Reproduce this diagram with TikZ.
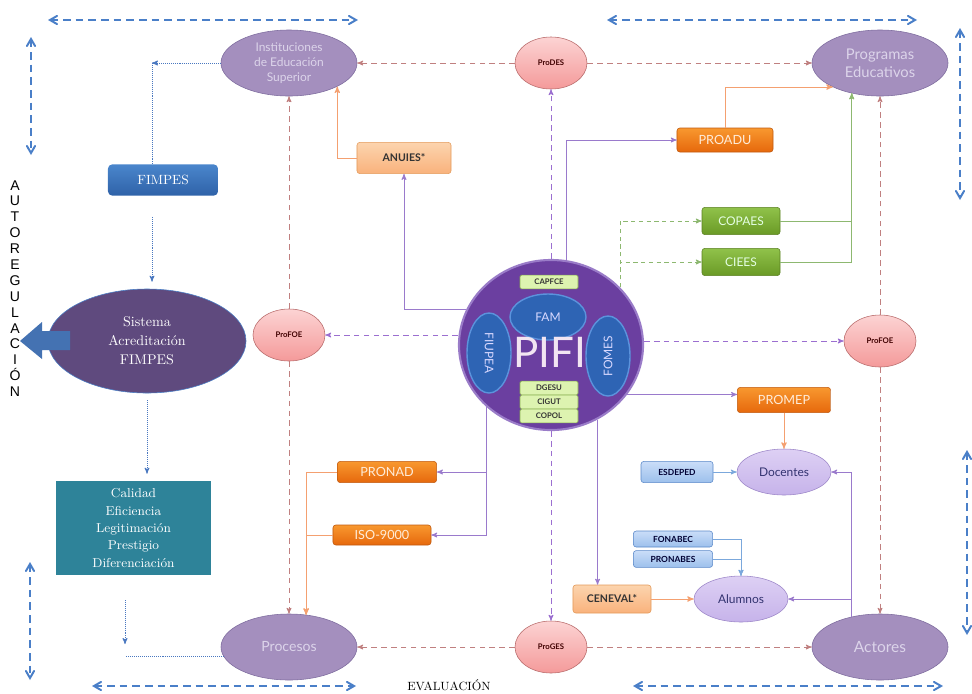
\documentclass[tikz,border=0pt]{standalone}
\usepackage{fontspec}
\newfontfamily\gill{Lato}
\newfontfamily\arial{Liberation Sans}
\usetikzlibrary{arrows,shapes.geometric}

\definecolor{bigfill}{HTML}{A48FBE}
\definecolor{bigline}{HTML}{7E6C9E}
\definecolor{bigtext}{HTML}{DCD4EA}
\definecolor{pinktop}{HTML}{FCD3D3}
\definecolor{pinkbot}{HTML}{F49A9A}
\definecolor{pinkline}{HTML}{B86B6B}
\definecolor{peachtop}{HTML}{FCD4AE}
\definecolor{peachbot}{HTML}{F9B27C}
\definecolor{peachline}{HTML}{E39A5A}
\definecolor{orangetop}{HTML}{F8982F}
\definecolor{orangebot}{HTML}{E6680C}
\definecolor{orangeline}{HTML}{C05A10}
\definecolor{greentop}{HTML}{90C24A}
\definecolor{greenbot}{HTML}{6A9A26}
\definecolor{greenline}{HTML}{5A8020}
\definecolor{bluetop}{HTML}{CADDF8}
\definecolor{bluebot}{HTML}{9CC0EC}
\definecolor{blueline}{HTML}{5A88C8}
\definecolor{lilactop}{HTML}{DDD0F4}
\definecolor{lilacbot}{HTML}{C6B3EA}
\definecolor{lilacline}{HTML}{9C86C8}
\definecolor{pififill}{HTML}{6B3FA0}
\definecolor{pifiline}{HTML}{9A7CC8}
\definecolor{pifiblue}{HTML}{2E64B4}
\definecolor{pifibluel}{HTML}{5B93DC}
\definecolor{tagfill}{HTML}{DDF3B0}
\definecolor{tagline}{HTML}{8AB050}
\definecolor{sisfill}{HTML}{5F4A7E}
\definecolor{sisline}{HTML}{4B7FC6}
\definecolor{teal}{HTML}{2E8399}
\definecolor{fimtop}{HTML}{4A86CC}
\definecolor{fimbot}{HTML}{2F62A8}
\definecolor{reddash}{HTML}{C08080}
\definecolor{purpdash}{HTML}{9B6FD0}
\definecolor{purpline}{HTML}{9A7ACC}
\definecolor{greenl}{HTML}{8DB870}
\definecolor{orangel}{HTML}{F4A070}
\definecolor{lightbl}{HTML}{7BA8DC}
\definecolor{dotblue}{HTML}{4A78C0}
\definecolor{bidirblue}{HTML}{4A7FC8}

\tikzset{
  big/.style={ellipse,draw=bigline,fill=bigfill,text=bigtext,inner sep=0pt,
    minimum width=3.4cm,minimum height=1.65cm,align=center},
  pinkel/.style={ellipse,draw=pinkline,top color=pinktop,bottom color=pinkbot,
    inner sep=0pt,minimum width=1.8cm,minimum height=1.3cm,text=black!75!red,
    font=\gill\bfseries\fontsize{5.5}{6}\selectfont},
  peach/.style={rectangle,rounded corners=2pt,draw=peachline,top color=peachtop,
    bottom color=peachbot,inner sep=0pt,text=black!80,
    font=\gill\bfseries\fontsize{7.5}{9}\selectfont},
  orangebox/.style={rectangle,rounded corners=2pt,draw=orangeline,top color=orangetop,
    bottom color=orangebot,inner sep=0pt,text=orange!15,
    font=\gill\fontsize{9}{10}\selectfont},
  greenbox/.style={rectangle,rounded corners=2pt,draw=greenline,top color=greentop,
    bottom color=greenbot,inner sep=0pt,text=green!10,minimum width=1.95cm,
    minimum height=0.68cm,font=\gill\fontsize{8.5}{10}\selectfont},
  bluebox/.style={rectangle,rounded corners=2pt,draw=blueline,top color=bluetop,
    bottom color=bluebot,inner sep=0pt,text=blue!20!black,
    font=\gill\bfseries\fontsize{6}{7}\selectfont},
  lilac/.style={ellipse,draw=lilacline,top color=lilactop,bottom color=lilacbot,
    inner sep=0pt,minimum width=2.35cm,minimum height=1.15cm,text=blue!30!black!80,
    font=\gill\fontsize{8.5}{10}\selectfont},
  pifitag/.style={rectangle,rounded corners=1pt,draw=tagline,fill=tagfill,inner sep=0pt,
    minimum width=1.45cm,minimum height=0.34cm,text=black!80,
    font=\gill\bfseries\fontsize{5.5}{6}\selectfont},
  pifiel/.style={ellipse,draw=pifibluel,line width=1pt,fill=pifiblue,inner sep=0pt,
    text=blue!15,font=\gill\fontsize{8.5}{10}\selectfont},
  reddsh/.style={draw=reddash,dash pattern=on 4pt off 3pt,line width=0.6pt,->},
  purpdsh/.style={draw=purpdash,dash pattern=on 4pt off 3pt,line width=0.6pt,->},
  purpln/.style={draw=purpline,line width=0.6pt,->},
  greendsh/.style={draw=greenl,dash pattern=on 3pt off 2.5pt,line width=0.6pt,->},
  greenln/.style={draw=greenl,line width=0.6pt,->},
  orangeln/.style={draw=orangel,line width=0.7pt,->},
  lightln/.style={draw=lightbl,line width=0.6pt,->},
  dotln/.style={draw=dotblue,dash pattern=on 0.6pt off 0.8pt,line width=0.6pt},
  bidir/.style={draw=bidirblue,dash pattern=on 5.5pt off 3.5pt,line width=1.4pt,
    <->,>=angle 60}
}

\begin{document}
\begin{tikzpicture}[x=0.025cm,y=-0.025cm,>=stealth']
\useasboundingbox (0,0) rectangle (972,693);

% top row
\node[big,font=\gill\fontsize{8.5}{10.5}\selectfont] (IES) at (289,63) {Instituciones\\de Educación\\Superior};
\node[pinkel] (ProDES) at (551,63) {ProDES};
\node[big,font=\gill\fontsize{10.5}{12.8}\selectfont] (Prog) at (880,63) {Programas\\Educativos};

\node[peach,minimum width=2.35cm,minimum height=0.78cm] (ANUIES) at (404,158) {ANUIES*};
\node[rectangle,rounded corners=3pt,top color=fimtop,bottom color=fimbot,text=white,
  minimum width=2.75cm,minimum height=0.78cm,font=\fontsize{9.5}{11}\selectfont] (FIMPES) at (163,180) {FIMPES};
\node[orangebox,minimum width=2.4cm,minimum height=0.6cm] (PROADU) at (725,140) {PROADU};
\node[greenbox] (COPAES) at (741,221) {COPAES};
\node[greenbox] (CIEES) at (741,262) {CIEES};

% PIFI
\node[ellipse,draw=pifiline,line width=1.5pt,fill=pififill,minimum width=4.6cm,
  minimum height=4.25cm,inner sep=0pt] (PIFI) at (551,345) {};
\node[pifitag] (CAPFCE) at (549,282) {CAPFCE};
\node[pifiel,minimum width=1.9cm,minimum height=1.15cm] (FAM) at (548,317) {FAM};
\node[pifiel,minimum width=2cm,minimum height=1.1cm,rotate=-90] (FIUPEA) at (489,353) {FIUPEA};
\node[pifiel,minimum width=2cm,minimum height=1.1cm,rotate=90] (FOMES) at (608,356) {FOMES};
\node[text=violet!10,font=\gill\fontsize{30}{30}\selectfont] (PIFItxt) at (550,352) {PIFI};
\node[pifitag] (DGESU) at (549,388) {DGESU};
\node[pifitag] (CIGUT) at (549,402) {CIGUT};
\node[pifitag] (COPOL) at (549,416) {COPOL};

% left side
\node[ellipse,draw=sisline,fill=sisfill,text=white,minimum width=4.95cm,minimum height=2.6cm,
  inner sep=0pt,align=center,font=\fontsize{10}{13.5}\selectfont] (Sistema) at (147,341) {Sistema\\Acreditación\\FIMPES};
\fill[sisline!90!black] (20,341) -- (42,322) -- (42,331) -- (70,331) -- (70,350) -- (42,350) -- (42,359) -- cycle;
\node[rectangle,fill=teal,text=white,minimum width=3.88cm,minimum height=2.35cm,align=center,
  font=\fontsize{9.2}{12.4}\selectfont] (Calidad) at (133.5,528) {Calidad\\Eficiencia\\Legitimación\\Prestigio\\Diferenciación};
\node[align=center,font=\arial\fontsize{10}{11.3}\selectfont] (Auto) at (15,288.5)
  {A\\U\\T\\O\\R\\E\\G\\U\\L\\A\\C\\I\\Ó\\N};

\node[pinkel] (ProFOEl) at (289,335) {ProFOE};
\node[pinkel] (ProFOEr) at (880,341) {ProFOE};

% right and bottom
\node[orangebox,minimum width=2.33cm,minimum height=0.63cm] (PROMEP) at (784,400) {PROMEP};
\node[bluebox,minimum width=1.8cm,minimum height=0.53cm] (ESDEPED) at (677,472) {ESDEPED};
\node[lilac] (Docentes) at (784,472) {Docentes};
\node[bluebox,minimum width=1.98cm,minimum height=0.4cm] (FONABEC) at (673,539) {FONABEC};
\node[bluebox,minimum width=1.98cm,minimum height=0.42cm] (PRONABES) at (673,559) {PRONABES};
\node[lilac] (Alumnos) at (741,599) {Alumnos};
\node[peach,minimum width=1.95cm,minimum height=0.7cm] (CENEVAL) at (612,599) {CENEVAL*};
\node[orangebox,minimum width=2.48cm,minimum height=0.53cm] (PRONAD) at (387,472) {PRONAD};
\node[orangebox,minimum width=2.45cm,minimum height=0.5cm] (ISO) at (382,535) {ISO-9000};

\node[big,font=\gill\fontsize{10}{12}\selectfont] (Procesos) at (289,647) {Procesos};
\node[pinkel] (ProGES) at (551,647) {ProGES};
\node[big,font=\gill\fontsize{11}{13}\selectfont] (Actores) at (880,647) {Actores};
\node[font=\fontsize{8.5}{10}\selectfont] (Eval) at (449,685) {EVALUACIÓN};

% red dashed
\draw[reddsh] (ProDES) -- (IES);
\draw[reddsh] (ProDES) -- (Prog);
\draw[reddsh] (ProFOEl) -- (IES);
\draw[reddsh] (ProFOEl) -- (Procesos);
\draw[reddsh] (ProFOEr) -- (Prog);
\draw[reddsh] (ProFOEr) -- (Actores);
\draw[reddsh] (ProGES) -- (Procesos);
\draw[reddsh] (ProGES) -- (Actores);

% purple from PIFI
\draw[purpdsh] (PIFI) -- (ProDES);
\draw[purpdsh] (PIFI) -- (ProGES);
\draw[purpdsh] (PIFI.west |- ProFOEl) -- (ProFOEl);
\draw[purpdsh] (PIFI.east |- ProFOEr) -- (ProFOEr);
\draw[purpln] (PIFI.157) -| (ANUIES);
\draw[purpln] (PIFI.80) |- (PROADU);
\draw[purpln] (PIFI.-33) -- (PIFI.-33 -| PROMEP.west);
\draw[purpln] (PIFI.-58) -- (PIFI.-58 |- CENEVAL.north);
\draw[purpln] (PIFI.224) |- (PRONAD);
\draw[purpln] (PIFI.224) |- (ISO);
\draw[purpln] (Actores.134) |- (Docentes);
\draw[purpln] (Actores.134) |- (Alumnos);

% green
\draw[greendsh] (PIFI.40) |- (COPAES);
\draw[greendsh] (PIFI.40) |- (CIEES);
\draw[greenln] (COPAES) -| (Prog.227);
\draw[greenln] (CIEES) -| (Prog.227);

% orange
\draw[orangeln] (ANUIES.west) -| (IES.-26);
\draw[orangeln] (PROADU.north) |- (Prog.207);
\draw[orangeln] (PROMEP) -- (Docentes);
\draw[orangeln] (PRONAD.west) -| (Procesos.62);
\draw[orangeln] (ISO.west) -| (Procesos.62);
\draw[orangeln] (CENEVAL) -- (Alumnos);

% light blue
\draw[lightln] (ESDEPED) -- (Docentes);
\draw[lightln] (FONABEC) -| (Alumnos);
\draw[lightln] (PRONABES) -| (Alumnos);

% dotted blue
\coordinate (cIES) at (152,63);
\coordinate (cCal) at (125,600);
\draw[dotln,->] (IES) -- (cIES);
\draw[dotln] (cIES) -- (cIES |- FIMPES.north);
\draw[dotln,->,shorten <=15pt,shorten >=5pt] (cIES |- FIMPES.south) -- (cIES |- Sistema.north);
\draw[dotln,->,shorten <=5pt,shorten >=5pt] (Sistema.south) -- (Sistema.south |- Calidad.north);
\draw[dotln,->] (cCal) -- ++(0,44);
\draw[dotln] (Procesos.188) -- (Procesos.188 -| cCal);

% blue double arrows
\draw[bidir] (48,20) -- (358,20);
\draw[bidir] (607,20) -- (917,20);
\draw[bidir] (31,37) -- (31,155);
\draw[bidir] (960,28) -- (960,200);
\draw[bidir] (30,562) -- (30,680);
\draw[bidir] (967,450) -- (967,635);
\draw[bidir] (92,686) -- (356,686);
\draw[bidir] (633,686) -- (943,686);
\end{tikzpicture}
\end{document}
